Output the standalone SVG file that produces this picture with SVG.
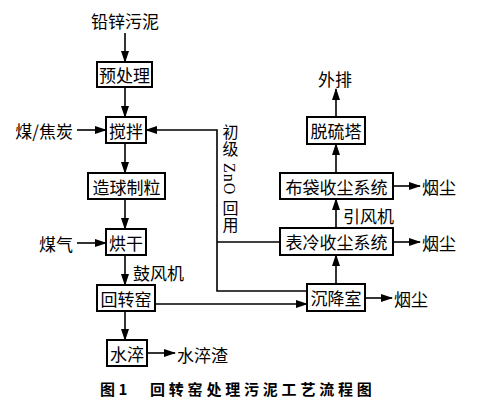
<svg xmlns="http://www.w3.org/2000/svg" width="485" height="407" viewBox="0 0 485 407">
<defs>
<marker id="ah" markerUnits="userSpaceOnUse" markerWidth="12" markerHeight="8" refX="11" refY="4" orient="auto">
<path d="M0,0 L12,4 L0,8 Z" fill="#000"/>
</marker>
<style>
.box{fill:#fff;stroke:#000;stroke-width:2}
.t{font-family:"Noto Sans CJK SC","Noto Sans",sans-serif;font-size:17px;fill:#000;dominant-baseline:central}
.m{text-anchor:middle}
.e{text-anchor:end}
.ln{fill:none;stroke:#000;stroke-width:1.6}
.vert{font-family:"Liberation Serif","Noto Sans CJK SC",serif;font-size:16px;fill:#000;writing-mode:vertical-rl;letter-spacing:1px}
.cap{font-family:"Noto Sans CJK SC",sans-serif;font-size:15px;font-weight:bold;fill:#000;dominant-baseline:central}
</style>
</defs>
<rect width="485" height="407" fill="#fff"/>
<g id="connectors">
<line class="ln" x1="125" y1="33" x2="125" y2="62" marker-end="url(#ah)"/>
<line class="ln" x1="125" y1="87" x2="125" y2="117" marker-end="url(#ah)"/>
<line class="ln" x1="77" y1="130" x2="106" y2="130" marker-end="url(#ah)"/>
<line class="ln" x1="125" y1="143" x2="125" y2="173" marker-end="url(#ah)"/>
<line class="ln" x1="125" y1="199" x2="125" y2="229" marker-end="url(#ah)"/>
<line class="ln" x1="77" y1="243" x2="106" y2="243" marker-end="url(#ah)"/>
<line class="ln" x1="125" y1="255" x2="125" y2="285" marker-end="url(#ah)"/>
<line class="ln" x1="125" y1="311" x2="125" y2="340" marker-end="url(#ah)"/>
<line class="ln" x1="147" y1="353" x2="175" y2="353" marker-end="url(#ah)"/>
<line class="ln" x1="155" y1="304" x2="307" y2="304" marker-end="url(#ah)"/>
<polyline class="ln" points="307,291 217,291 217,130 146,130" marker-end="url(#ah)"/>
<line class="ln" x1="217" y1="242" x2="280" y2="242"/>
<line class="ln" x1="336" y1="284" x2="336" y2="255" marker-end="url(#ah)"/>
<line class="ln" x1="365" y1="298" x2="392" y2="298" marker-end="url(#ah)"/>
<line class="ln" x1="393" y1="242" x2="420" y2="242" marker-end="url(#ah)"/>
<line class="ln" x1="336" y1="228" x2="336" y2="199" marker-end="url(#ah)"/>
<line class="ln" x1="393" y1="186" x2="420" y2="186" marker-end="url(#ah)"/>
<line class="ln" x1="336" y1="173" x2="336" y2="144" marker-end="url(#ah)"/>
<line class="ln" x1="336" y1="117" x2="336" y2="89" marker-end="url(#ah)"/>
</g>
<g id="labels">
<text class="t m" x="125" y="20">铅锌污泥</text>
<text class="t e" x="73" y="130">煤/焦炭</text>
<text class="t e" x="73" y="243">煤气</text>
<text class="t" x="133" y="272">鼓风机</text>
<text class="t" x="177" y="354">水淬渣</text>
<text class="t m" x="335" y="78">外排</text>
<text class="t" x="422" y="186">烟尘</text>
<text class="t" x="343" y="215">引风机</text>
<text class="t" x="422" y="242">烟尘</text>
<text class="t" x="394" y="298">烟尘</text>
<text id="recycle-label" class="vert" x="229" y="124">初级 ZnO 回用</text>
</g>
<g id="n-pre"><rect class="box" x="97" y="62" width="55" height="25"/><text class="t m" x="124.5" y="74.5">预处理</text></g>
<g id="n-mix"><rect class="box" x="106" y="117" width="40" height="26"/><text class="t m" x="126" y="130">搅拌</text></g>
<g id="n-pellet"><rect class="box" x="88" y="173" width="77" height="26"/><text class="t m" x="126.5" y="186">造球制粒</text></g>
<g id="n-dry"><rect class="box" x="106" y="229" width="40" height="26"/><text class="t m" x="126" y="242">烘干</text></g>
<g id="n-kiln"><rect class="box" x="97" y="285" width="58" height="26"/><text class="t m" x="126" y="298">回转窑</text></g>
<g id="n-quench"><rect class="box" x="107" y="340" width="40" height="26"/><text class="t m" x="127" y="353">水淬</text></g>
<g id="n-settle"><rect class="box" x="307" y="284" width="58" height="27"/><text class="t m" x="336" y="297.5">沉降室</text></g>
<g id="n-cool"><rect class="box" x="280" y="228" width="113" height="27"/><text class="t m" x="336.5" y="241.5">表冷收尘系统</text></g>
<g id="n-bag"><rect class="box" x="280" y="173" width="113" height="26"/><text class="t m" x="336.5" y="186">布袋收尘系统</text></g>
<g id="n-desulf"><rect class="box" x="307" y="117" width="58" height="27"/><text class="t m" x="336" y="130.5">脱硫塔</text></g>
<g id="caption">
<text class="cap" x="100" y="388">图 1</text>
<text class="cap" x="150" y="388" style="letter-spacing:3.8px">回转窑处理污泥工艺流程图</text>
</g>
</svg>
